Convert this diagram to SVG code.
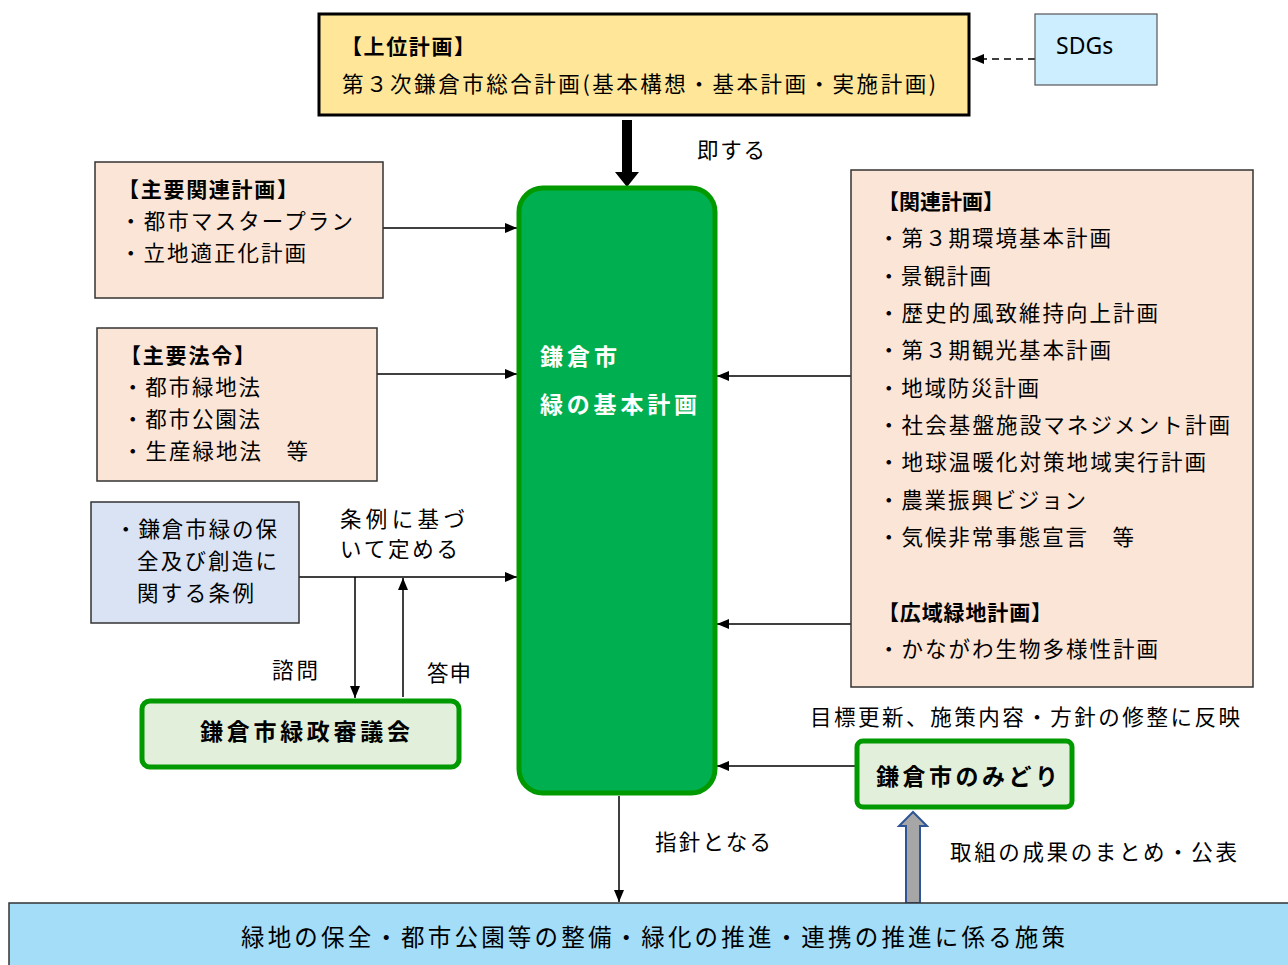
<svg xmlns="http://www.w3.org/2000/svg" width="1288" height="965" viewBox="0 0 1288 965">
<defs>
<marker id="ah" viewBox="0 0 12 10" refX="12" refY="5" markerWidth="12" markerHeight="10" markerUnits="userSpaceOnUse" orient="auto">
<path d="M0,0 L12,5 L0,10 Z" fill="#000"/>
</marker>
<style>
text{font-family:"Noto Sans CJK JP","Noto Sans",sans-serif;fill:#000;}
.t{font-size:21.5px;}
.b{font-size:21px;font-weight:bold;}
.lbl{font-size:21.5px;}
.peach{fill:#FBE5D6;stroke:#333;stroke-width:1.5;}
.conn{stroke:#000;stroke-width:1.5;fill:none;}
.g{font-size:23px;font-weight:bold;}
</style>
</defs>
<rect width="1288" height="965" fill="#fff"/>

<g id="connectors">
<line class="conn" x1="1035" y1="59" x2="972" y2="59" stroke-dasharray="7,5" marker-end="url(#ah)"/>
<polygon points="622,120 632,120 632,172 639,172 627,187 615,172 622,172" fill="#000"/>
<line class="conn" x1="383" y1="228" x2="517" y2="228" marker-end="url(#ah)"/>
<line class="conn" x1="377" y1="374" x2="517" y2="374" marker-end="url(#ah)"/>
<line class="conn" x1="299" y1="577" x2="517" y2="577" marker-end="url(#ah)"/>
<line class="conn" x1="355" y1="577" x2="355" y2="698" marker-end="url(#ah)"/>
<line class="conn" x1="403" y1="697" x2="403" y2="578" marker-end="url(#ah)"/>
<line class="conn" x1="851" y1="376" x2="717" y2="376" marker-end="url(#ah)"/>
<line class="conn" x1="851" y1="624" x2="717" y2="624" marker-end="url(#ah)"/>
<line class="conn" x1="856" y1="766" x2="717" y2="766" marker-end="url(#ah)"/>
<line class="conn" x1="619" y1="796" x2="619" y2="902" marker-end="url(#ah)"/>
<polygon points="906,903 920,903 920,826 927,826 913,812 899,826 906,826" fill="#A6A6A6" stroke="#2F5597" stroke-width="2"/>
</g>

<g id="upper-plan">
<rect x="319" y="14" width="650" height="101" fill="#FFE699" stroke="#000" stroke-width="3"/>
<text class="b" x="341" y="54" font-size="22" textLength="134">【上位計画】</text>
<text class="t" x="342" y="92" textLength="594">第３次鎌倉市総合計画(基本構想・基本計画・実施計画)</text>
</g>

<g id="sdgs">
<rect x="1035" y="14" width="122" height="71" fill="#CCEEFF" stroke="#555" stroke-width="1.2"/>
<text x="1056" y="54" font-size="23" style="font-family:'Noto Sans','Liberation Sans',sans-serif">SDGs</text>
</g>

<text class="lbl" x="697" y="158" textLength="68">即する</text>

<g id="main-plan">
<rect x="519" y="188" width="196" height="605" rx="24" fill="#00B050" stroke="#009900" stroke-width="5"/>
<text class="g" x="540" y="365" style="fill:#fff" textLength="77">鎌倉市</text>
<text class="g" x="540" y="413" style="fill:#fff" textLength="157">緑の基本計画</text>
</g>

<g id="main-related">
<rect class="peach" x="95" y="162" width="288" height="136"/>
<text class="b" x="118" y="197" textLength="180">【主要関連計画】</text>
<text class="t" x="120" y="229" textLength="233">・都市マスタープラン</text>
<text class="t" x="120" y="261" textLength="186">・立地適正化計画</text>
</g>

<g id="main-laws">
<rect class="peach" x="97" y="328" width="280" height="153"/>
<text class="b" x="120" y="363" textLength="135">【主要法令】</text>
<text class="t" x="122" y="395" textLength="138">・都市緑地法</text>
<text class="t" x="122" y="427" textLength="138">・都市公園法</text>
<text class="t" x="122" y="459" textLength="186">・生産緑地法　等</text>
</g>

<g id="ordinance">
<rect x="91" y="502" width="208" height="121" fill="#DAE3F3" stroke="#333" stroke-width="1.5"/>
<text class="t" x="115" y="537" textLength="162">・鎌倉市緑の保</text>
<text class="t" x="137" y="569" textLength="140">全及び創造に</text>
<text class="t" x="137" y="601" textLength="117">関する条例</text>
</g>

<text class="lbl" x="340" y="527" textLength="125">条例に基づ</text>
<text class="lbl" x="340" y="557" textLength="118">いて定める</text>
<text class="lbl" x="272" y="678" textLength="46">諮問</text>
<text class="lbl" x="427" y="681" textLength="44">答申</text>

<g id="council">
<rect x="142" y="701" width="317" height="66" rx="8" fill="#E2EFDA" stroke="#009900" stroke-width="5"/>
<text class="g" x="200" y="740" textLength="210">鎌倉市緑政審議会</text>
</g>

<g id="related-plans">
<rect class="peach" x="851" y="170" width="402" height="517"/>
<text class="b" x="878" y="209" textLength="126">【関連計画】</text>
<text class="t" x="878" y="246" textLength="233">・第３期環境基本計画</text>
<text class="t" x="878" y="284" textLength="113">・景観計画</text>
<text class="t" x="878" y="321" textLength="280">・歴史的風致維持向上計画</text>
<text class="t" x="878" y="358" textLength="233">・第３期観光基本計画</text>
<text class="t" x="878" y="396" textLength="161">・地域防災計画</text>
<text class="t" x="878" y="433" textLength="352">・社会基盤施設マネジメント計画</text>
<text class="t" x="878" y="470" textLength="328">・地球温暖化対策地域実行計画</text>
<text class="t" x="878" y="508" textLength="208">・農業振興ビジョン</text>
<text class="t" x="878" y="545" textLength="256">・気候非常事態宣言　等</text>
<text class="b" x="878" y="620" textLength="174">【広域緑地計画】</text>
<text class="t" x="878" y="657" textLength="280">・かながわ生物多様性計画</text>
</g>

<text class="lbl" x="810" y="725" textLength="430">目標更新、施策内容・方針の修整に反映</text>

<g id="kamakura-midori">
<rect x="857" y="741" width="215" height="66" rx="6" fill="#E2EFDA" stroke="#009900" stroke-width="5"/>
<text class="g" x="876" y="785" textLength="182">鎌倉市のみどり</text>
</g>

<text class="lbl" x="655" y="850" textLength="116">指針となる</text>
<text class="lbl" x="950" y="860" textLength="287">取組の成果のまとめ・公表</text>

<g id="measures">
<rect x="9" y="903" width="1290" height="70" fill="#A3DDF8" stroke="#333" stroke-width="1.5"/>
<text x="241" y="946" font-size="23.5" textLength="824">緑地の保全・都市公園等の整備・緑化の推進・連携の推進に係る施策</text>
</g>
</svg>
